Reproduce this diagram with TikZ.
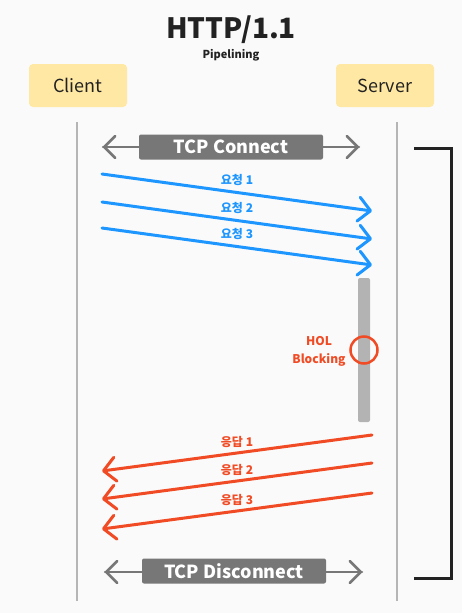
\documentclass[tikz,border=0pt]{standalone}
\usepackage{fontspec}
\setmainfont{Noto Sans CJK KR}
\newfontfamily\krfont{Noto Sans CJK KR}
\usetikzlibrary{arrows.meta,positioning,calc}

\definecolor{bgcol}{HTML}{FAFAFA}
\definecolor{boxyellow}{HTML}{FFE8A3}
\definecolor{reqblue}{HTML}{1E96FF}
\definecolor{resred}{HTML}{F04B24}
\definecolor{tcpgray}{HTML}{777777}
\definecolor{lifegray}{HTML}{B5B5B5}
\definecolor{bargray}{HTML}{B3B3B3}
\definecolor{inkdark}{HTML}{222222}

\begin{document}
\begin{tikzpicture}[x=1pt, y=-1pt,
    party/.style={fill=boxyellow, rounded corners=4pt, minimum width=98pt, minimum height=43pt, font=\fontsize{18}{20}\selectfont, text=inkdark},
    tcpbox/.style={fill=tcpgray, rounded corners=2pt, text=white, font=\fontsize{18}{20}\selectfont\bfseries, minimum height=25pt, inner xsep=0pt},
    tcparrow/.style={tcpgray, line width=2.5pt, line cap=round, -{Straight Barb[length=11pt,width=22pt,round]}},
    lifeline/.style={lifegray, line width=2.5pt},
    req/.style={reqblue, line width=3pt, line cap=round, -{Straight Barb[length=12pt,width=24pt,round]}},
    res/.style={resred, line width=3pt, line cap=round, -{Straight Barb[length=12pt,width=24pt,round]}},
    reqlabel/.style={midway, yshift=13pt, font=\krfont\fontsize{12}{14}\selectfont\bfseries},
    reslabel/.style={midway, yshift=11pt, font=\krfont\fontsize{12}{14}\selectfont\bfseries},
]

% Canvas
\fill[bgcol] (0,0) rectangle (462,613);
\useasboundingbox (0,0) rectangle (462,613);

% Title
\node[font=\fontsize{28}{30}\selectfont\bfseries, text=inkdark] (title) at (231,30) {HTTP/1.1};
\node[font=\fontsize{11}{12}\selectfont\bfseries, text=inkdark] (subtitle) at (231,55) {Pipelining};

% Client and server
\node[party] (client) at (78,85.5) {Client};
\node[party] (server) at (385,85.5) {Server};

% Lifelines
\coordinate (cTop) at (77,122);
\coordinate (cBot) at (77,601);
\coordinate (sTop) at (397,122);
\coordinate (sBot) at (397,601);
\draw[lifeline] (cTop) -- (cBot);
\draw[lifeline] (sTop) -- (sBot);

% Connection bracket
\coordinate (brTop) at (414,148);
\coordinate (brTopR) at (451,148);
\coordinate (brBotR) at (451,578);
\coordinate (brBot) at (414,578);
\draw[inkdark, line width=3pt] (brTop) -- (brTopR) -- (brBotR) -- (brBot);

% TCP connect
\coordinate (connL) at (103,147);
\coordinate (connR) at (359,147);
\draw[tcparrow] (connR) -- (connL);
\draw[tcparrow] (connL) -- (connR);
\node[tcpbox, minimum width=184pt] (connect) at (231,147) {TCP Connect};

% Requests
\foreach \i/\y in {1/174,2/202,3/228} {
    \coordinate (q\i) at (102,\y);
    \coordinate (r\i) at (372,\y+37);
    \draw[req] (q\i) -- node[reqlabel] {요청 \i} (r\i);
}

% HOL blocking
\node[fill=bargray, rounded corners=2pt, minimum width=12pt, minimum height=144pt, inner sep=0pt] (bar) at (364,350) {};
\node[draw=resred, line width=2.5pt, circle, minimum size=27pt, inner sep=0pt] (hol) at (bar.center) {};
\node[text=resred, font=\fontsize{12}{18}\selectfont\bfseries, align=center] (holtext) at (319,351) {HOL\\Blocking};

% Responses
\foreach \i/\y in {1/435,2/463,3/493} {
    \coordinate (s\i) at (372,\y);
    \coordinate (c\i) at (102,\y+36);
    \draw[res] (s\i) -- node[reslabel] {응답 \i} (c\i);
}

% TCP disconnect
\coordinate (discL) at (105,572);
\coordinate (discR) at (362,572);
\draw[tcparrow] (discR) -- (discL);
\draw[tcparrow] (discL) -- (discR);
\node[tcpbox, minimum width=184pt] (disconnect) at (234,571) {TCP Disconnect};

\end{tikzpicture}
\end{document}
